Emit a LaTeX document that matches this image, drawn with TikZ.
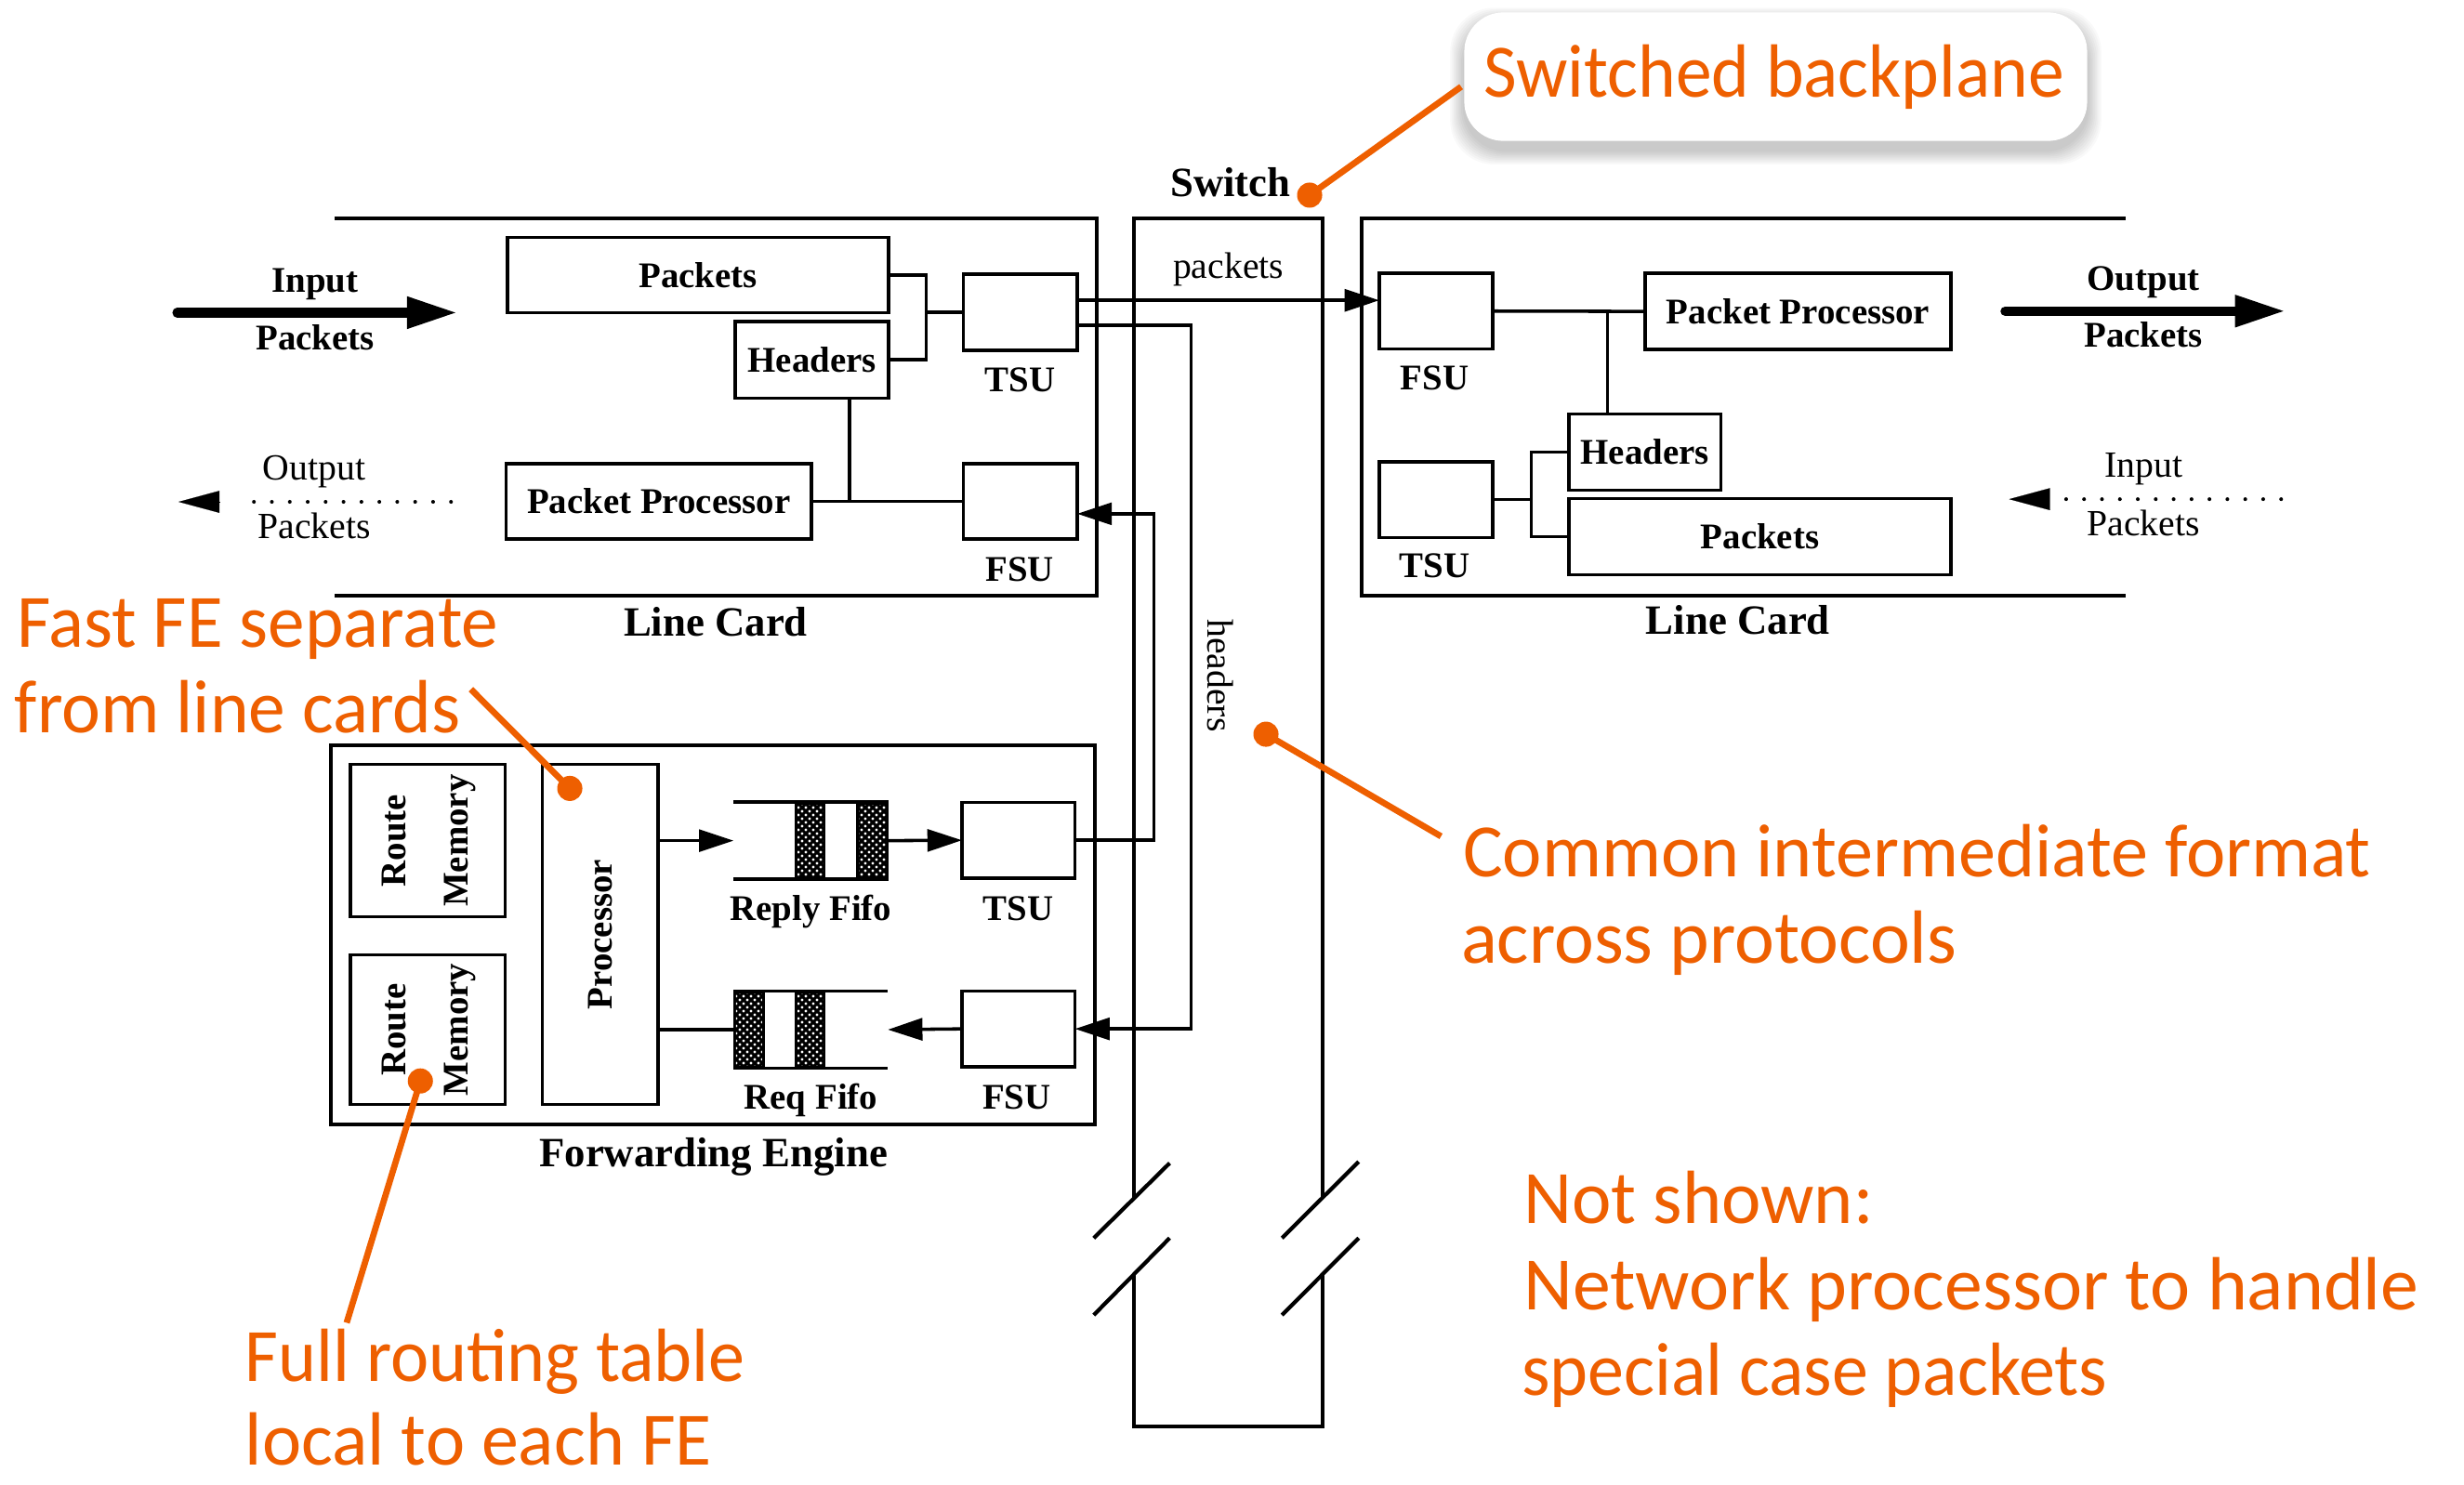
\documentclass[tikz,border=0pt]{standalone}
\usepackage{fontspec}
\usepackage{graphicx}
\setmainfont{Liberation Serif}
\newfontfamily\annfont{Carlito}
\usetikzlibrary{arrows.meta,patterns.meta}
\definecolor{anncol}{RGB}{238,95,0}
\newcommand\labf{\fontsize{23}{27}\selectfont\bfseries}
\newcommand\capf{\fontsize{26.5}{30}\selectfont\bfseries}
\newcommand\regf{\fontsize{23.5}{28}\selectfont}
\newcommand\annf{\annfont\fontsize{48}{55}\selectfont}
\newcommand\ofit[2]{\resizebox{#1pt}{\height}{#2}}
\pgfdeclarepattern{
  name=whitedots, type=uncolored,
  bottom left={\pgfpoint{0pt}{0pt}}, top right={\pgfpoint{5pt}{5pt}},
  tile size={\pgfpoint{5pt}{5pt}},
  code={\pgfpathcircle{\pgfpoint{1.25pt}{1.25pt}}{1.05pt}\pgfpathcircle{\pgfpoint{3.75pt}{3.75pt}}{1.05pt}\pgfusepath{fill}}
}
\begin{document}
\begin{tikzpicture}[x=1pt,y=-1pt,
  box/.style={draw, line width=2.1pt, inner sep=0pt, outer sep=0pt, font=\labf},
  lbl/.style={inner sep=0pt, anchor=base, font=\labf},
  cpt/.style={inner sep=0pt, anchor=base, font=\capf},
  rg/.style={inner sep=0pt, anchor=base, font=\regf},
  rot/.style={inner sep=0pt, anchor=center, font=\labf, rotate=90},
  wire/.style={line width=2.1pt},
  lcframe/.style={line width=2.5pt},
  sarr/.style={line width=2.1pt, -{Triangle[length=22pt,width=14pt]}},
  barr/.style={line width=6pt, line cap=round, -{Triangle[length=32pt,width=19pt]}},
  dotl/.style={line width=2.4pt, line cap=round, dash pattern=on 0pt off 11.4pt},
  tip/.style={line width=0.1pt, -{Triangle[length=26pt,width=14pt]}},
  anntxt/.style={inner sep=0pt, anchor=base west, font=\annf, text=anncol},
  aline/.style={draw=anncol, line width=4pt},
  adot/.style={fill=anncol, circle, inner sep=0pt, minimum size=16pt},
  fifo/.style={inner sep=0pt, outer sep=0pt},
]
\fill[white] (0,0) rectangle (1568,945);
\useasboundingbox (0,0) rectangle (1568,945);

% ---- frames ----
\draw[lcframe] (213,139) -- (698,139) -- (698,379) -- (213,379);
\draw[lcframe] (1352.4,139) -- (866.5,139) -- (866.5,379) -- (1352.4,379);
\draw[lcframe] (210.5,474.2) rectangle (696.8,715.7);
% switch
\draw[lcframe] (721.5,763.7) -- (721.5,139) -- (841.5,139) -- (841.5,762.4);
\draw[lcframe] (721.5,811.1) -- (721.5,908) -- (841.5,908) -- (841.5,811.4);
\draw[lcframe] (696,788) -- (744.3,740.3);
\draw[lcframe] (696,837) -- (744.3,788);
\draw[lcframe] (815.8,788) -- (864.6,739.4);
\draw[lcframe] (815.8,837) -- (864.6,788);

% ---- left line card ----
\node[box, minimum width=242.5pt, minimum height=48pt] (lpk) at (444.25,175) {Packets};
\node[box, minimum width=97.5pt, minimum height=49pt] (lhd) at (516.75,229) {Headers};
\node[box, minimum width=72.5pt, minimum height=48.5pt] (ltsu) at (649.25,198.75) {};
\node[box, minimum width=72.5pt, minimum height=48pt] (lfsu) at (649.25,319) {};
\node[box, minimum width=194.5pt, minimum height=48pt] (lpp) at (419.25,319) {Packet Processor};
\node[lbl] (ltsul) at (649,249.4) {TSU};
\node[lbl] (lfsul) at (649,369.7) {FSU};
\node[cpt] (llc) at (455.4,405) {Line Card};

\coordinate (ljn) at (589.4,198.75);
\draw[wire] (lpk.east) -| (ljn);
\draw[wire] (lhd.east) -| (ljn);
\draw[wire] (ljn) -- (ltsu.west);
\coordinate (lj2) at (540.5,319);
\draw[wire] (lhd.south -| lj2) -- (lj2);
\draw[wire] (lpp.east) -- (lfsu.west);

% input / output packets (left)
\coordinate (inL0) at (112.7,199);
\coordinate (inL1) at (291,199);
\draw[barr] (inL0) -- (inL1);
\node[lbl] (inLa) at (200.5,186.3) {Input};
\node[lbl] (inLb) at (200.5,222.8) {Packets};
\coordinate (oL0) at (287,319.4);
\coordinate (oL1) at (151,319.4);
\draw[dotl] (oL0) -- (oL1);
\coordinate (oLb) at (139.6,319.4);
\coordinate (oLt) at (113.6,319.4);
\draw[tip] (oLb) -- (oLt);
\node[rg] (oLa) at (200,305.6) {Output};
\node[rg] (oLbt) at (200,343) {Packets};

% ---- right line card ----
\node[box, minimum width=72.3pt, minimum height=48pt] (rfsu) at (913.85,198) {};
\node[box, minimum width=194.5pt, minimum height=48.4pt] (rpp) at (1144.25,198.2) {Packet Processor};
\node[box, minimum width=96.8pt, minimum height=48.6pt] (rhd) at (1046.8,287.8) {Headers};
\node[box, minimum width=243pt, minimum height=48.5pt] (rpk) at (1119.95,341.55) {Packets};
\node[box, minimum width=72.3pt, minimum height=48.4pt] (rtsu) at (913.85,318) {};
\node[lbl] (rfsul) at (913,248) {FSU};
\node[lbl] (rtsul) at (913,367.7) {TSU};
\node[cpt] (rlc) at (1106,403.4) {Line Card};

\draw[wire] (rfsu.east) -- (rpp.west);
\coordinate (rj1) at (1022.9,198.1);
\draw[wire] (rj1) -- (rj1 |- rhd.north);
\coordinate (rj2) at (974.5,318);
\draw[wire] (rtsu.east) -- (rj2);
\draw[wire] (rhd.west) -| (rj2) |- (rpk.west);

\coordinate (oR0) at (1276,198);
\coordinate (oR1) at (1454.3,198);
\draw[barr] (oR0) -- (oR1);
\node[lbl] (oRa) at (1364,185) {Output};
\node[lbl] (oRb) at (1364,221) {Packets};
\coordinate (iR0) at (1451.6,317.7);
\coordinate (iR1) at (1314,317.7);
\draw[dotl] (iR0) -- (iR1);
\coordinate (iRb) at (1302.4,317.7);
\coordinate (iRt) at (1278.5,317.7);
\draw[tip] (iRb) -- (iRt);
\node[rg] (iRa) at (1364,303.7) {Input};
\node[rg] (iRbt) at (1364,340.7) {Packets};

% ---- switch labels ----
\node[cpt] (swl) at (783,125.2) {Switch};
\node[rg] (swp) at (781.7,177.4) {packets};
\node[inner sep=0pt, font=\regf, rotate=-90] (swh) at (776.8,430) {headers};

% ---- forwarding engine ----
\node[box, minimum width=98.5pt, minimum height=97pt] (rm1) at (272.25,535.1) {};
\node[box, minimum width=98.5pt, minimum height=95.3pt] (rm2) at (272.25,655.25) {};
\node[box, minimum width=73.4pt, minimum height=216.3pt] (proc) at (381.9,594.75) {};
\node[rot] (rm1a) at (251,535.1) {Route};
\node[rot] (rm1b) at (292.5,535.1) {Memory};
\node[rot] (rm2a) at (251,655.3) {Route};
\node[rot] (rm2b) at (292.5,655.3) {Memory};
\node[rot] (procl) at (381.9,594.8) {Processor};
\node[box, minimum width=72pt, minimum height=48.4pt] (fetsu) at (648.15,534.8) {};
\node[box, minimum width=72pt, minimum height=48pt] (fefsu) at (648.15,654.85) {};
\node[lbl] (fetsul) at (648,585.6) {TSU};
\node[lbl] (fefsul) at (647,705.8) {FSU};
\node[lbl] (rfl) at (516,585.6) {Reply Fifo};
\node[lbl] (qfl) at (516,705.8) {Req Fifo};
\node[cpt] (fel) at (454,742.3) {Forwarding Engine};

% fifos
\node[fifo, minimum width=98.5pt, minimum height=49pt] (rfifo) at (516.05,535.05) {};
\draw[wire] (rfifo.north west) -- (rfifo.north east);
\draw[wire] (rfifo.south west) -- (rfifo.south east);
\fill[black] (505.9,510.6) rectangle (525.2,559.5);
\fill[pattern=whitedots, pattern color=white] (507.5,512.4) rectangle (523.6,557.7);
\fill[black] (545,510.6) rectangle (565.3,559.5);
\fill[pattern=whitedots, pattern color=white] (546.6,512.4) rectangle (563.7,557.7);
\node[fifo, minimum width=98.2pt, minimum height=48.9pt] (qfifo) at (515.9,655.35) {};
\draw[wire] (qfifo.north west) -- (qfifo.north east);
\draw[wire] (qfifo.south west) -- (qfifo.south east);
\fill[black] (466.8,630.9) rectangle (486.5,679.8);
\fill[pattern=whitedots, pattern color=white] (468.4,632.7) rectangle (484.9,678);
\fill[black] (505.9,630.9) rectangle (525.2,679.8);
\fill[pattern=whitedots, pattern color=white] (507.5,632.7) rectangle (523.6,678);

\draw[sarr] (proc.east |- rfifo.west) -- (rfifo.west);
\draw[sarr] (rfifo.east) -- (fetsu.west);
\draw[wire] (proc.east |- qfifo.west) -- (qfifo.west);
\draw[sarr] (fefsu.west) -- (qfifo.east);

% ---- wires through the switch ----
\coordinate (p1) at ([yshift=7.6pt]ltsu.east);
\draw[sarr] (p1) -- (p1 -| rfsu.west);
\coordinate (p2) at ([yshift=-8.2pt]ltsu.east);
\coordinate (hx) at (758,430);
\draw[sarr] (p2) -| (hx) |- (fefsu.east);
\coordinate (vx) at (734.4,430);
\coordinate (p3) at ([yshift=-8pt]lfsu.east);
\draw[sarr] (fetsu.east) -| (vx) |- (p3);

% ---- annotations ----
\foreach \i in {2,4,...,18} {
  \fill[black, opacity=0.022, rounded corners=28pt] (931.8-\i/2,7.9-\i/2+6) rectangle (1328.2+\i/2,89.7+\i/2+6);
}
\node[fill=white, rounded corners=25pt, minimum width=396.4pt, minimum height=81.8pt, inner sep=0pt] (cb) at (1130,48.8) {};
\node[anntxt, anchor=base] (cbt) at (1129,62) {\ofit{369.4}{Switched backplane}};
\coordinate (c1) at (929.8,55.2);
\node[adot] (d1) at (833.4,124.2) {};
\draw[aline] (c1) -- (d1.center);

\node[adot] (d2) at (362.6,501.8) {};
\coordinate (c2) at (299.7,438.7);
\draw[aline] (c2) -- (d2.center);
\node[anntxt] (t2a) at (10.6,411.7) {\ofit{306.3}{Fast FE separate}};
\node[anntxt] (t2b) at (9.2,466.3) {\ofit{283.8}{from line cards}};

\node[adot] (d3) at (267.5,688) {};
\coordinate (c3) at (220.6,841.9);
\draw[aline] (c3) -- (d3.center);
\node[anntxt] (t3a) at (155.8,879.5) {\ofit{318.2}{Full routing table}};
\node[anntxt] (t3b) at (155.8,932.5) {\ofit{297}{local to each FE}};

\node[adot] (d4) at (805.6,467.3) {};
\coordinate (c4) at (917,532.3);
\draw[aline] (c4) -- (d4.center);
\node[anntxt] (t4a) at (930.8,557.9) {\ofit{577.7}{Common intermediate format}};
\node[anntxt] (t4b) at (929.6,613.2) {\ofit{315.4}{across protocols}};

\node[anntxt] (t5a) at (969.4,778.4) {\ofit{222.6}{Not shown:}};
\node[anntxt] (t5b) at (969.4,833.6) {\ofit{569.6}{Network processor to handle}};
\node[anntxt] (t5c) at (968.2,888.2) {\ofit{372.6}{special case packets}};
\end{tikzpicture}
\end{document}
